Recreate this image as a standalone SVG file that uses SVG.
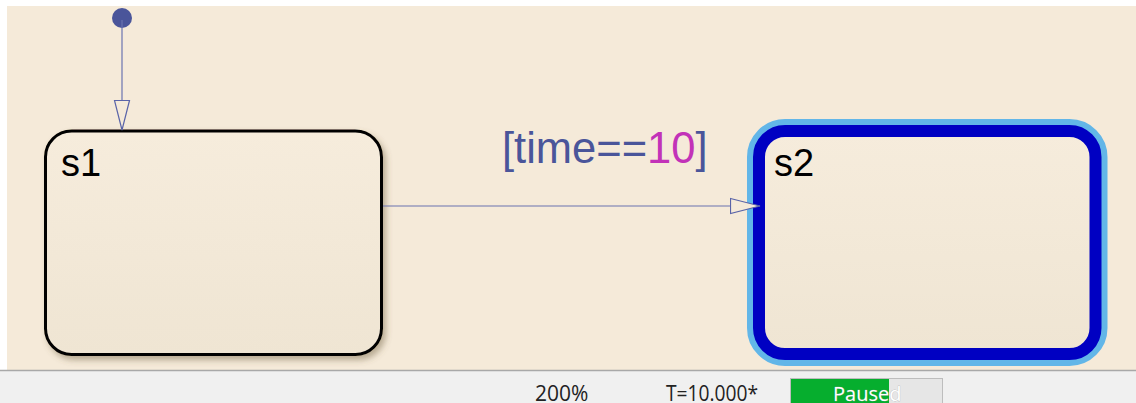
<svg xmlns="http://www.w3.org/2000/svg" width="1136" height="403" viewBox="0 0 1136 403">
<defs>
<linearGradient id="fill" x1="0" y1="0" x2="0" y2="1">
<stop offset="0" stop-color="#F6ECDC"/>
<stop offset="1" stop-color="#EFE5D3"/>
</linearGradient>
<filter id="shadow" x="-10%" y="-10%" width="125%" height="130%">
<feDropShadow dx="3" dy="4" stdDeviation="3" flood-color="#6b5a3a" flood-opacity="0.45"/>
</filter>
<marker id="openArrowV" markerUnits="userSpaceOnUse" markerWidth="34" markerHeight="20" refX="30" refY="8" orient="auto" viewBox="0 0 34 16">
<path d="M0.5,0.5 L30,8 L0.5,15.5 Z" fill="#F5EAD9" stroke="#5A64A8" stroke-width="1.2"/>
</marker>
<style>
.state{fill:url(#fill);}
.lbl{font-family:"Liberation Sans",Arial,sans-serif;font-size:38px;fill:#000;}
.conn{stroke:#6a73b0;stroke-width:1.2;fill:none;}
.status{font-family:"Open Sans","Noto Sans",sans-serif;font-size:21px;fill:#222;}
</style>
</defs>
<rect x="0" y="0" width="1136" height="403" fill="#FFFFFF"/>
<rect x="7" y="6" width="1129" height="364" fill="#F5EAD9"/>
<rect x="0" y="370" width="1136" height="33" fill="#F0F0F0"/>
<line x1="0" y1="370.5" x2="1136" y2="370.5" stroke="#A8A8A8" stroke-width="1.5"/>

<g id="s1">
<rect class="state" x="45.5" y="131" width="336" height="223.5" rx="26" ry="26" stroke="#000" stroke-width="3" filter="url(#shadow)"/>
<text class="lbl" x="61" y="175.5">s1</text>
</g>

<g id="s2">
<rect x="759" y="131" width="336.5" height="223" rx="26" ry="26" fill="none" stroke="#62B6E8" stroke-width="24"/>
<rect class="state" x="759" y="131" width="336.5" height="223" rx="26" ry="26" stroke="#0000C2" stroke-width="12"/>
<text class="lbl" x="774" y="175.5">s2</text>
</g>

<g id="connectors">
<circle cx="122" cy="18" r="10" fill="#4A559A"/>
<line class="conn" x1="122" y1="20" x2="122" y2="130" marker-end="url(#openArrowV)"/>
<line class="conn" x1="383" y1="206" x2="760" y2="206" marker-end="url(#openArrowV)"/>
<text x="502" y="162.5" font-family="Liberation Sans,Arial,sans-serif" font-size="43.5" fill="#4A559A">[time==<tspan fill="#C232B8">10</tspan>]</text>
</g>

<g id="statusbar">
<text class="status" x="535" y="400.5">200%</text>
<text class="status" x="666" y="400.5" textLength="92" lengthAdjust="spacingAndGlyphs">T=10.000*</text>
<rect x="790.5" y="378.5" width="152" height="30" fill="#E6E6E6" stroke="#BDBDBD"/>
<rect x="791" y="379" width="98" height="30" fill="#06AE2E"/>
<text x="833" y="400.5" font-family="Open Sans,Noto Sans,sans-serif" font-size="20" fill="#FFFFFF" stroke="#9a9a9a" stroke-width="0.4" paint-order="stroke">Paused</text>
</g>
</svg>
